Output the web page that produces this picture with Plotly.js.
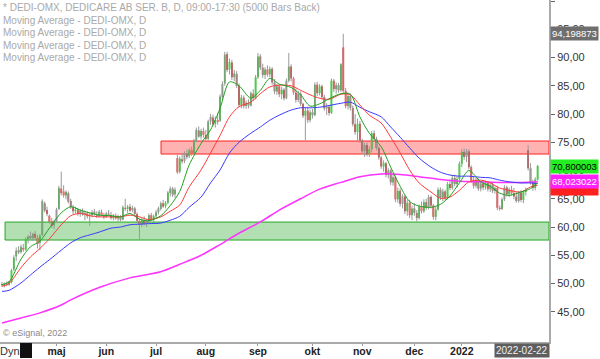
<!DOCTYPE html>
<html>
<head>
<meta charset="utf-8">
<script src="https://cdn.plot.ly/plotly-3.0.1.min.js"></script>
<style>html,body{margin:0;padding:0;background:#fff;}#chart{width:600px;height:359px;}</style>
</head>
<body>
<div id="chart"></div>
<script>
// ---- Data ----
const titleText = "* DEDI-OMX, DEDICARE AB SER. B, D, 09:00-17:30 (5000 Bars Back)";
const maLegend = ["Moving Average - DEDI-OMX, D","Moving Average - DEDI-OMX, D","Moving Average - DEDI-OMX, D","Moving Average - DEDI-OMX, D"];
const lastDate = "2022-02-22";

const tickIdx = [23, 44, 65, 86, 108, 131, 152, 174, 194, 214];
const tickLabels = ["maj","jun","jul","aug","sep","okt","nov","dec","2022",""];

const openP = [
49.9,49.7,50.0,49.8,50.2,52.5,54.8,55.9,55.6,56.3,
56.0,57.8,58.4,58.0,58.8,58.1,57.2,58.6,64.2,63.0,
62.0,61.0,60.3,61.0,63.2,66.8,66.3,65.6,66.0,64.6,
63.5,62.8,63.0,62.4,62.8,62.3,62.4,61.9,62.1,62.7,
62.2,62.0,62.6,62.1,61.8,62.4,62.1,61.6,62.0,61.5,
61.8,61.3,63.4,63.2,63.6,63.0,63.3,62.3,61.1,60.5,
61.2,60.6,61.0,62.1,61.4,61.9,62.6,63.2,64.2,63.7,
64.3,66.0,66.8,65.8,72.2,69.8,72.0,71.7,72.9,72.5,
73.6,73.1,75.3,77.1,76.0,77.0,76.3,75.6,78.7,79.4,
78.3,78.9,78.8,83.0,85.4,90.6,87.9,89.1,86.5,87.1,
85.0,81.6,82.9,81.4,82.0,81.5,83.6,82.8,86.5,90.2,
88.2,86.9,87.9,87.0,88.0,85.6,84.0,84.9,83.5,84.3,
82.8,85.9,88.4,86.3,83.8,82.5,83.6,81.8,79.7,80.6,
78.9,80.3,79.8,85.2,83.7,84.9,83.0,81.0,81.3,80.2,
85.9,84.4,85.1,84.2,91.8,84.1,81.4,83.2,81.1,78.2,
76.8,78.3,75.3,73.4,74.5,72.9,73.8,76.6,75.6,74.0,
72.3,70.7,71.3,69.2,70.0,67.9,68.8,64.9,66.4,64.1,
65.4,62.8,64.3,62.1,63.3,62.5,61.6,63.6,62.8,64.4,
63.4,65.3,63.8,61.8,63.1,66.6,65.2,66.3,65.1,67.6,
66.9,68.7,67.6,68.5,71.2,73.3,72.4,73.4,70.6,68.2,
67.3,68.3,66.8,67.7,67.0,67.8,66.7,67.5,66.4,66.9,
63.4,63.2,64.9,67.0,65.8,66.6,66.0,65.4,64.6,66.0,
64.8,66.2,73.6,70.4,67.9,66.9,68.4];
const highP = [
50.3,50.2,50.4,50.5,52.6,55.0,56.4,56.6,56.9,57.0,
58.2,58.6,59.2,59.0,59.3,58.6,58.8,64.9,64.5,63.6,
62.2,61.6,61.3,63.4,67.3,69.8,67.4,66.5,66.3,65.0,
63.9,63.6,63.4,63.2,63.3,62.9,62.8,62.6,63.0,63.2,
62.8,63.0,63.1,62.5,62.7,63.0,62.7,62.3,62.4,62.2,
62.1,63.8,65.0,63.9,64.1,63.8,63.6,62.6,61.5,61.6,
61.9,61.4,62.4,62.5,62.2,63.0,63.6,64.5,64.8,64.6,
66.4,67.2,67.1,67.0,72.8,72.5,73.0,73.4,73.7,74.0,
74.2,75.6,77.6,77.8,77.4,77.6,77.2,79.0,80.0,79.9,
79.6,80.2,83.5,85.8,91.0,91.0,89.8,89.6,87.8,87.6,
85.4,83.4,83.3,82.4,82.6,84.0,84.4,86.9,90.8,90.6,
88.9,88.3,88.6,88.4,88.3,86.2,85.3,85.3,84.8,84.6,
86.3,90.8,88.8,86.6,84.5,84.1,84.0,82.0,81.2,81.3,
80.8,80.9,85.6,85.7,85.3,85.2,83.4,81.9,81.6,86.3,
86.2,85.6,85.5,89.0,94.2,84.6,83.8,83.6,81.5,80.0,
79.2,78.8,75.6,74.9,75.0,74.3,77.0,77.1,76.0,74.3,
72.6,71.8,71.5,70.4,70.2,69.4,69.1,67.0,66.8,65.8,
65.7,64.8,64.8,63.8,64.2,63.0,64.0,64.5,64.9,65.0,
65.7,65.6,64.1,63.6,67.0,67.0,66.8,66.6,68.0,68.4,
69.2,69.3,69.0,71.6,73.8,73.9,73.8,73.8,70.9,69.0,
68.7,68.6,68.1,68.2,68.2,68.0,67.9,67.8,67.2,67.3,
63.8,65.2,67.4,67.3,67.0,67.3,66.9,66.2,66.4,66.5,
66.5,67.0,74.5,71.3,68.4,68.8,71.0];
const lowP = [
49.4,49.3,49.5,49.6,50.0,52.2,54.0,55.2,55.3,55.6,
55.8,57.1,57.9,57.6,57.7,56.2,55.9,58.4,62.6,61.9,
60.6,59.8,59.6,60.7,63.0,65.6,65.2,64.9,64.2,63.2,
62.3,62.4,62.0,61.8,62.0,61.2,61.5,60.2,61.7,62.0,
61.6,61.7,61.9,61.4,61.6,61.9,61.3,61.2,61.3,61.0,
61.0,61.2,62.8,62.5,62.7,62.6,62.0,60.8,57.8,60.0,
60.3,60.0,60.7,61.1,60.9,61.5,62.2,62.9,63.4,63.3,
64.0,65.4,65.3,65.2,69.4,69.5,71.2,71.3,72.0,72.2,
72.6,72.9,75.0,75.8,75.5,75.8,75.3,75.4,78.1,77.8,
77.6,78.1,78.6,82.6,85.0,87.4,87.0,86.0,85.8,84.6,
81.2,81.0,81.0,80.9,81.0,81.3,82.3,82.6,86.2,87.8,
86.4,86.2,86.6,86.5,85.2,83.5,83.4,83.0,82.6,82.4,
82.6,85.6,85.8,83.4,82.0,82.1,81.4,79.3,75.4,78.4,
78.5,79.2,79.6,83.2,83.3,82.6,80.6,79.8,79.7,80.0,
83.9,83.6,83.8,83.9,83.7,81.0,80.8,80.6,77.8,76.3,
75.0,74.9,73.0,72.4,72.5,72.4,73.2,75.2,73.6,71.9,
70.3,69.8,68.8,68.6,67.4,67.3,64.4,64.3,63.6,63.3,
62.3,62.0,61.6,61.2,62.0,61.0,61.3,62.4,62.5,63.0,
63.1,63.3,61.3,61.2,62.9,64.8,64.6,64.7,64.9,66.5,
66.6,67.2,67.0,68.2,70.6,71.9,71.5,70.2,67.8,66.8,
66.9,66.4,66.3,66.5,66.6,66.3,66.2,66.0,65.9,63.0,
62.9,63.0,64.6,65.4,65.3,65.6,64.9,64.3,64.3,64.4,
64.2,65.6,70.0,67.5,66.4,66.5,68.2];
const closeP = [
49.7,50.0,49.8,50.3,52.3,54.6,55.8,55.5,56.5,56.0,
57.9,58.3,58.0,58.8,58.1,57.0,58.5,64.6,62.9,62.3,
60.9,60.2,61.0,63.1,66.9,66.0,65.6,66.2,64.5,63.5,
62.8,63.1,62.3,62.9,62.2,62.5,61.9,62.2,62.6,62.3,
62.0,62.7,62.1,61.8,62.4,62.2,61.6,62.0,61.5,61.9,
61.3,63.5,63.2,63.6,62.9,63.4,62.3,61.1,60.4,61.2,
60.6,61.1,62.1,61.4,61.9,62.6,63.3,64.2,63.6,64.3,
66.1,66.8,65.7,66.6,69.7,72.1,71.6,72.9,72.4,73.6,
73.0,75.3,77.2,76.0,77.0,76.3,75.6,78.7,79.5,78.2,
78.9,78.6,83.1,85.3,90.5,87.8,89.2,86.5,87.2,85.0,
81.6,82.9,81.4,82.0,81.5,83.7,82.8,86.5,90.2,88.2,
86.9,87.9,87.0,88.0,85.6,84.0,84.9,83.5,84.3,82.8,
85.9,88.4,86.3,83.8,82.5,83.6,81.8,79.7,80.6,78.9,
80.3,79.8,85.2,83.7,84.9,83.0,81.0,81.3,80.2,85.9,
84.4,85.1,84.2,88.8,84.1,81.4,83.2,81.1,78.2,76.8,
78.3,75.3,73.4,74.5,72.9,73.8,76.6,75.6,74.0,72.3,
70.7,71.3,69.2,70.0,67.9,68.8,64.9,66.4,64.1,65.4,
62.8,64.3,62.1,63.3,62.5,61.6,63.6,62.8,64.4,63.4,
65.3,63.8,61.8,63.1,66.6,65.2,66.3,65.1,67.6,66.9,
68.7,67.6,68.5,71.2,73.3,72.4,73.4,70.6,68.2,67.3,
68.3,66.8,67.7,67.0,67.8,66.7,67.5,66.4,66.9,63.4,
63.2,64.9,67.0,65.8,66.6,66.0,65.4,64.6,66.0,64.8,
66.2,66.5,70.4,67.9,66.9,68.4,70.8];

// moving averages read at sample bars
const maIdx = [0,3,8,12,16,20,25,29,33,37,41,46,50,54,58,62,67,71,75,79,84,88,92,96,100,105,109,113,117,122,126,130,134,138,143,147,151,155,160,164,168,172,176,181,185,189,193,197,202,206,210,214,219,223,226];
const maFast = [49.8,50.3,54.3,56.5,57.5,59.8,62.5,63.6,63.0,62.5,62.1,62.0,61.8,62.4,61.4,61.1,62.0,63.8,66.3,71.0,74.8,77.2,81.0,85.7,85.0,82.8,84.2,86.3,85.3,84.7,83.4,81.4,81.8,82.7,83.6,83.5,79.5,76.6,74.2,70.6,67.2,64.5,63.7,63.5,64.0,65.5,67.8,70.0,68.0,67.2,66.0,65.6,66.2,66.8,67.8];
const maMid = [49.5,50.0,52.8,54.7,56.2,57.9,60.4,62.0,62.4,62.0,61.8,61.8,61.8,62.1,61.8,61.3,61.8,62.8,63.9,67.1,70.1,73.1,76.2,79.5,81.3,82.1,83.6,84.8,85.1,85.0,84.2,83.4,82.8,82.6,83.5,83.4,81.6,79.8,78.4,75.9,73.1,70.1,67.8,66.2,65.1,65.3,66.5,68.0,68.3,67.8,66.9,66.5,66.2,67.1,67.4];
const maSlow = [48.6,48.8,50.1,51.5,52.9,54.2,55.9,57.2,58.1,58.6,59.1,59.8,60.0,60.4,60.5,60.6,60.7,61.2,61.9,63.5,65.3,67.8,70.1,73.1,75.0,76.6,77.7,78.9,79.8,80.7,81.1,81.1,81.2,81.5,81.9,82.1,81.2,80.4,79.5,77.7,75.9,74.0,72.2,70.6,69.7,69.2,69.0,69.0,68.8,68.7,68.3,68.0,67.8,67.8,67.7];
const maLongIdx = [0,8,16,25,29,41,54,67,75,84,92,100,109,117,126,134,143,151,160,168,176,185,193,202,210,219,226];
const maLong = [43.0,43.9,44.8,46.2,47.1,49.3,51.0,52.1,53.4,55.0,56.9,58.9,60.9,63.0,65.0,66.7,67.9,68.9,69.4,69.3,68.9,68.4,68.1,68.0,67.9,67.9,68.023022];

// zones: [start bar, low price, high price]
const redZone = [67.1, 72.92, 75.22];
const greenZone = [1.3, 57.70, 60.88];

// ---- Build ----
const idx = closeP.map((_, i) => i);
const xRange = [-0.84, 230.8];
const bodyLen = closeP.map((c, i) => c - openP[i]);
const bodyCol = closeP.map((c, i) => c >= openP[i] ? '#19c019' : '#cc2020');
const spikeHigh = 94.198873;
const lastClose = 70.800003;
const lastLong = maLong[maLong.length - 1];
const fmt = v => v.toFixed(6).replace('.', ',');

const traces = [
  {type:'ohlc', x: idx, open: openP, high: highP, low: lowP, close: closeP,
   tickwidth: 0, increasing:{line:{color:'#9a9a9a', width:1}}, decreasing:{line:{color:'#9a9a9a', width:1}},
   hoverinfo:'skip', showlegend:false},
  {type:'bar', x: idx, y: bodyLen, base: openP, width: 0.75,
   marker:{color: bodyCol, line:{width:0}}, hoverinfo:'skip', showlegend:false},
  {type:'scatter', mode:'lines', x: maLongIdx, y: maLong, line:{color:'#ff33ff', width:1.5, shape:'spline', smoothing:0.8}, hoverinfo:'skip', showlegend:false},
  {type:'scatter', mode:'lines', x: maIdx, y: maSlow, line:{color:'#3a3aff', width:1, shape:'spline', smoothing:0.8}, hoverinfo:'skip', showlegend:false},
  {type:'scatter', mode:'lines', x: maIdx, y: maMid, line:{color:'#ff3a3a', width:1, shape:'spline', smoothing:0.8}, hoverinfo:'skip', showlegend:false},
  {type:'scatter', mode:'lines', x: maIdx, y: maFast, line:{color:'#1fa01f', width:1, shape:'spline', smoothing:0.8}, hoverinfo:'skip', showlegend:false}
];

const PH = 342; // plot height in px
const legendAnn = [titleText].concat(maLegend).map((t, k) => ({
  xref:'paper', yref:'paper', x:0, xanchor:'left', xshift:1,
  y: 1 - (7.5 + k*12.6)/PH, yanchor:'middle', text:t, showarrow:false,
  font:{family:'Liberation Sans, Arial, sans-serif', size:10, color:'#a9a9a9'}
}));

const lblFont = c => ({family:'Liberation Sans, Arial', size:9.5, color:c});
const annotations = legendAnn.concat([
  {xref:'paper', yref:'paper', x:0, xanchor:'left', xshift:1, y:1 - 333/PH, yanchor:'middle',
   text:'© eSignal, 2022', showarrow:false, font:{family:'Liberation Sans, Arial', size:9, color:'#8a8a8a'}},
  {xref:'paper', yref:'paper', x:0, xanchor:'left', xshift:-2, y:-1/PH, yanchor:'top',
   text:'Dyn', showarrow:false, font:{family:'Liberation Sans, Arial', size:11, color:'#333'}},
  {xref:'paper', yref:'paper', x:1, xanchor:'right', xshift:1, y:-1/PH, yanchor:'top',
   text:lastDate, showarrow:false, bgcolor:'#5e5e5e', borderpad:1,
   font:{family:'Liberation Sans, Arial', size:10, color:'#f0f0f0'}},
  {xref:'paper', yref:'y', x:1, xanchor:'left', xshift:1, y:spikeHigh, yanchor:'middle',
   text:fmt(spikeHigh), showarrow:false, bgcolor:'#6e6e6e', borderpad:1, font:lblFont('#ffffff')},
  {xref:'paper', yref:'y', x:1, xanchor:'left', xshift:1, y:maMid[maMid.length-1], yanchor:'middle', yshift:-3,
   text:fmt(lastLong), showarrow:false, bgcolor:'#ff2020', borderpad:1, font:lblFont('#ff2020')},
  {xref:'paper', yref:'y', x:1, xanchor:'left', xshift:1, y:lastLong, yanchor:'middle',
   text:fmt(lastLong), showarrow:false, bgcolor:'#ff22ff', borderpad:1, font:lblFont('#ffffff')},
  {xref:'paper', yref:'y', x:1, xanchor:'left', xshift:1, y:lastClose, yanchor:'middle',
   text:fmt(lastClose), showarrow:false, bgcolor:'#22ee22', borderpad:1, font:lblFont('#000000')}
]);

const shapes = [
  {type:'rect', xref:'x', yref:'y', x0:redZone[0], x1:xRange[1], y0:redZone[1], y1:redZone[2],
   fillcolor:'rgba(255,0,0,0.30)', line:{color:'#ff2020', width:1}, layer:'below'},
  {type:'rect', xref:'x', yref:'y', x0:greenZone[0], x1:xRange[1], y0:greenZone[1], y1:greenZone[2],
   fillcolor:'rgba(20,160,20,0.32)', line:{color:'#22a822', width:1}, layer:'below'},
  {type:'rect', xref:'paper', yref:'paper', x0:20/549, x1:32/549, y0:-16/PH, y1:-1/PH,
   fillcolor:'#111', line:{width:0}}
];

const layout = {
  width:600, height:359,
  margin:{l:0, r:51, t:0, b:17, pad:0},
  paper_bgcolor:'#ffffff', plot_bgcolor:'#ffffff',
  separators:',.',
  showlegend:false,
  barmode:'overlay',
  font:{family:'Liberation Sans, Arial, sans-serif', size:11, color:'#333'},
  xaxis:{range:xRange, tickmode:'array', tickvals:tickIdx, ticktext:tickLabels.map(t => t ? '<b>'+t+'</b>' : ''),
         ticks:'outside', ticklen:2, tickcolor:'#999', showline:true, linecolor:'#aaaaaa', linewidth:2,
         ticklabelstandoff:-4,
         showgrid:false, zeroline:false, rangeslider:{visible:false}, fixedrange:true,
         tickfont:{family:'Liberation Sans, Arial', size:10.5, color:'#222'}},
  yaxis:{side:'right', range:[39.65, 100.18], tickmode:'array', tickvals:[45,50,55,60,65,70,75,80,85,90,95,100],
         tickformat:'.2f', ticks:'outside', ticklen:4, tickcolor:'#666', showline:true, linecolor:'#aaaaaa', linewidth:2,
         showgrid:false, zeroline:false, fixedrange:true,
         tickfont:{family:'Liberation Sans, Arial', size:11, color:'#333'}},
  shapes:shapes,
  annotations:annotations
};

Plotly.newPlot('chart', traces, layout, {staticPlot:true, displayModeBar:false});
</script>
</body>
</html>
